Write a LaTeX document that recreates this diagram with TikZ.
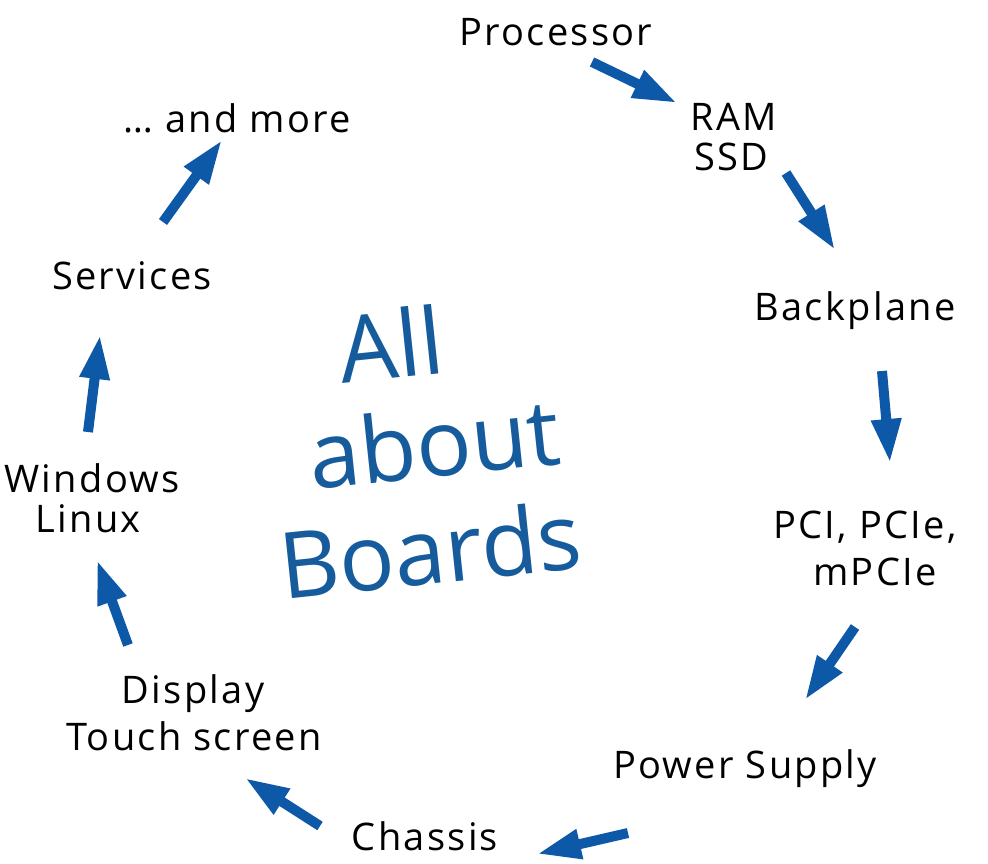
\documentclass[tikz,border=0pt]{standalone}
\usepackage{fontspec}
\setmainfont{Open Sans}
\newfontfamily\handfont[LetterSpace=6]{Open Sans}
\usetikzlibrary{arrows.meta}
\definecolor{arrowblue}{RGB}{14,88,168}
\definecolor{titleblue}{RGB}{22,92,156}
\begin{document}
\begin{tikzpicture}[x=1pt,y=-1pt,
  lbl/.style={font=\handfont\fontsize{38}{42}\selectfont, inner sep=0pt, anchor=base, text=black},
  flow/.style={draw=arrowblue, line width=10pt, -{Triangle[width=28pt,length=44pt]}},
  title/.style={font=\fontsize{92}{100}\selectfont, text=titleblue, inner sep=0pt, rotate=6, anchor=base west}]
\useasboundingbox (0,0) rectangle (988,863);
% labels
\node[lbl] (proc) at (556,45) {Processor};
\node[lbl] (ram) at (734,130) {RAM};
\node[lbl] (ssd) at (731,170) {SSD};
\node[lbl] (back) at (855,320) {Backplane};
\node[lbl] (pci) at (865,538) {PCI, PCIe,};
\node[lbl] (mpcie) at (875,585) {mPCIe};
\node[lbl] (power) at (745,778) {Power Supply};
\node[lbl] (chassis) at (425,850) {Chassis};
\node[lbl] (display) at (193,703) {Display};
\node[lbl] (touch) at (194,750) {Touch screen};
\node[lbl] (win) at (92,492) {Windows};
\node[lbl] (linux) at (88,532) {Linux};
\node[lbl] (serv) at (132,289) {Services};
\node[lbl] (more) at (237,132) {\dots{} and more};
% title
\node[title] (all) at (342,384) {All};
\node[title] (about) at (312,490) {about};
\node[title] (boards) at (283,600) {Boards};
% arrow end points
\coordinate (a1s) at (592,62);  \coordinate (a1e) at (677,103);
\coordinate (a2s) at (786,173); \coordinate (a2e) at (835,250);
\coordinate (a3s) at (882,371); \coordinate (a3e) at (890,463);
\coordinate (a4s) at (855,627); \coordinate (a4e) at (805,700);
\coordinate (a5s) at (628,833); \coordinate (a5e) at (537,854);
\coordinate (a6s) at (320,826); \coordinate (a6e) at (245,778);
\coordinate (a7s) at (128,645); \coordinate (a7e) at (97,560);
\coordinate (a8s) at (88,432);  \coordinate (a8e) at (100,335);
\coordinate (a9s) at (163,222); \coordinate (a9e) at (222,140);
\draw[flow] (a1s) -- (a1e);
\draw[flow] (a2s) -- (a2e);
\draw[flow] (a3s) -- (a3e);
\draw[flow] (a4s) -- (a4e);
\draw[flow] (a5s) -- (a5e);
\draw[flow] (a6s) -- (a6e);
\draw[flow] (a7s) -- (a7e);
\draw[flow] (a8s) -- (a8e);
\draw[flow] (a9s) -- (a9e);
\end{tikzpicture}
\end{document}
